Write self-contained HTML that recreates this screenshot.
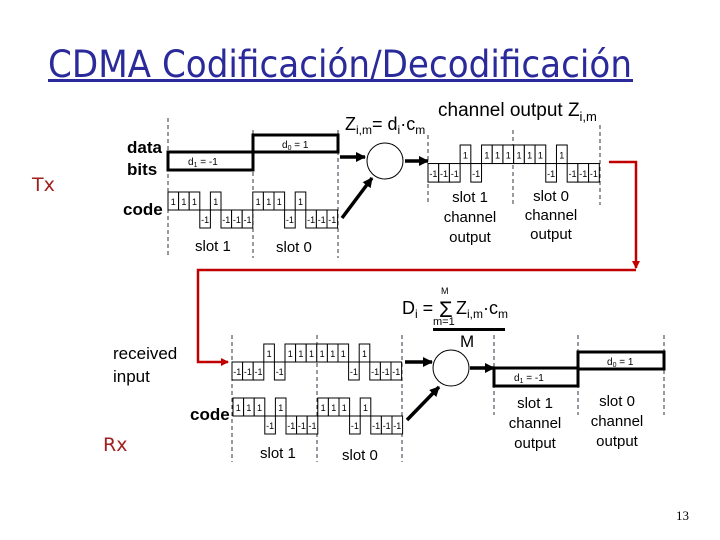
<!DOCTYPE html>
<html><head><meta charset="utf-8"><style>
html,body{margin:0;padding:0;background:#fff;}
svg{display:block;font-family:"Liberation Sans",sans-serif;}
.c text{font-size:9px;text-anchor:middle;}
.c rect{fill:#fff;stroke:#000;stroke-width:1;}
</style></head><body>
<svg width="720" height="540" viewBox="0 0 720 540" xmlns="http://www.w3.org/2000/svg">
<defs>
<marker id="ab" markerWidth="10" markerHeight="10" refX="9" refY="5" orient="auto" markerUnits="userSpaceOnUse"><path d="M0,0 L10,5 L0,10 Z" fill="#000"/></marker>
<marker id="ar" markerWidth="8" markerHeight="8" refX="7" refY="4" orient="auto" markerUnits="userSpaceOnUse"><path d="M0,0 L8,4 L0,8 Z" fill="#c00000"/></marker>
</defs>
<!-- title -->
<text x="48" y="77" font-size="37" fill="#2a2a9a" font-family="DejaVu Sans, sans-serif" textLength="584" lengthAdjust="spacingAndGlyphs">CDMA Codificación/Decodificación</text>
<rect x="48" y="79" width="585" height="3" fill="#2a2a9a"/>

<text x="32" y="191" font-size="19" fill="#a02020" font-family="DejaVu Sans, sans-serif">Tx</text>
<text x="103" y="451" font-size="19" fill="#a02020" font-family="DejaVu Sans, sans-serif">Rx</text>

<!-- encoder labels -->
<g font-size="17" font-weight="bold">
<text x="127" y="153">data</text>
<text x="127" y="175">bits</text>
<text x="123" y="215">code</text>
</g>
<g font-size="15">
<text x="195" y="251">slot 1</text>
<text x="276" y="252">slot 0</text>
</g>
<!-- dashed lines -->
<g stroke="#334" stroke-width="1" stroke-dasharray="4,3">
<line x1="168" y1="118" x2="168" y2="258"/>
<line x1="253" y1="130" x2="253" y2="258"/>
<line x1="338" y1="130" x2="338" y2="258"/>
<line x1="428" y1="135" x2="428" y2="205"/>
<line x1="513" y1="130" x2="513" y2="205"/>
<line x1="600" y1="125" x2="600" y2="205"/>
<line x1="232" y1="335" x2="232" y2="462"/>
<line x1="317" y1="335" x2="317" y2="462"/>
<line x1="402" y1="335" x2="402" y2="462"/>
<line x1="494" y1="335" x2="494" y2="415"/>
<line x1="578" y1="335" x2="578" y2="415"/>
<line x1="664" y1="335" x2="664" y2="415"/>
</g>
<!-- data bits -->
<rect x="168" y="152" width="85" height="18" fill="none" stroke="#000" stroke-width="3"/>
<rect x="253" y="135" width="85" height="17" fill="none" stroke="#000" stroke-width="3"/>
<text x="188" y="165" font-size="10">d<tspan font-size="7" dy="2">1</tspan><tspan dy="-2"> = -1</tspan></text>
<text x="282" y="148" font-size="10">d<tspan font-size="7" dy="2">0</tspan><tspan dy="-2"> = 1</tspan></text>

<!-- encoder code waveform (pattern A) -->
<g class="c" transform="translate(168,192)">
<rect x="0" y="0" width="10.6" height="18"/><rect x="10.6" y="0" width="10.6" height="18"/><rect x="21.2" y="0" width="10.6" height="18"/><rect x="42.4" y="0" width="10.6" height="18"/><rect x="84.8" y="0" width="10.6" height="18"/><rect x="95.4" y="0" width="10.6" height="18"/><rect x="106" y="0" width="10.6" height="18"/><rect x="127.2" y="0" width="10.6" height="18"/>
<rect x="31.8" y="18" width="10.6" height="18"/><rect x="53" y="18" width="10.6" height="18"/><rect x="63.6" y="18" width="10.6" height="18"/><rect x="74.2" y="18" width="10.6" height="18"/><rect x="116.6" y="18" width="10.6" height="18"/><rect x="137.8" y="18" width="10.6" height="18"/><rect x="148.4" y="18" width="10.6" height="18"/><rect x="159" y="18" width="10.6" height="18"/>
<text x="5.3" y="13">1</text><text x="15.9" y="13">1</text><text x="26.5" y="13">1</text><text x="47.7" y="13">1</text><text x="90.1" y="13">1</text><text x="100.7" y="13">1</text><text x="111.3" y="13">1</text><text x="132.5" y="13">1</text>
<text x="37.1" y="31">-1</text><text x="58.3" y="31">-1</text><text x="68.9" y="31">-1</text><text x="79.5" y="31">-1</text><text x="121.9" y="31">-1</text><text x="143.1" y="31">-1</text><text x="153.7" y="31">-1</text><text x="164.3" y="31">-1</text>
</g>

<!-- Zim formula -->
<text x="345" y="130" font-size="18">Z<tspan font-size="12" dy="4">i,m</tspan><tspan dy="-4">= d</tspan><tspan font-size="12" dy="4">i</tspan><tspan dy="-4">·c</tspan><tspan font-size="12" dy="4">m</tspan></text>
<text x="438" y="116" font-size="19">channel output Z<tspan font-size="13" dy="5">i,m</tspan></text>

<!-- encoder circle & arrows -->
<circle cx="385" cy="161" r="18" fill="none" stroke="#000" stroke-width="1"/>
<g stroke="#000" stroke-width="3.5">
<line x1="340" y1="157" x2="365" y2="157" marker-end="url(#ab)"/>
<line x1="342" y1="218" x2="372" y2="178" marker-end="url(#ab)"/>
<line x1="405" y1="161" x2="428" y2="161" marker-end="url(#ab)"/>
</g>

<!-- channel waveform (pattern B) -->
<g class="c" transform="translate(428,145) scale(1.01,1.03)">
<rect x="31.8" y="0" width="10.6" height="18"/><rect x="53" y="0" width="10.6" height="18"/><rect x="63.6" y="0" width="10.6" height="18"/><rect x="74.2" y="0" width="10.6" height="18"/><rect x="84.8" y="0" width="10.6" height="18"/><rect x="95.4" y="0" width="10.6" height="18"/><rect x="106" y="0" width="10.6" height="18"/><rect x="127.2" y="0" width="10.6" height="18"/>
<rect x="0" y="18" width="10.6" height="18"/><rect x="10.6" y="18" width="10.6" height="18"/><rect x="21.2" y="18" width="10.6" height="18"/><rect x="42.4" y="18" width="10.6" height="18"/><rect x="116.6" y="18" width="10.6" height="18"/><rect x="137.8" y="18" width="10.6" height="18"/><rect x="148.4" y="18" width="10.6" height="18"/><rect x="159" y="18" width="10.6" height="18"/>
<text x="37.1" y="13">1</text><text x="58.3" y="13">1</text><text x="68.9" y="13">1</text><text x="79.5" y="13">1</text><text x="90.1" y="13">1</text><text x="100.7" y="13">1</text><text x="111.3" y="13">1</text><text x="132.5" y="13">1</text>
<text x="5.3" y="31">-1</text><text x="15.9" y="31">-1</text><text x="26.5" y="31">-1</text><text x="47.7" y="31">-1</text><text x="121.9" y="31">-1</text><text x="143.1" y="31">-1</text><text x="153.7" y="31">-1</text><text x="164.3" y="31">-1</text>
</g>
<g font-size="15" text-anchor="middle">
<text x="470" y="202">slot 1</text><text x="470" y="222">channel</text><text x="470" y="242">output</text>
<text x="551" y="201">slot 0</text><text x="551" y="220">channel</text><text x="551" y="239">output</text>
</g>

<!-- red connector -->
<polyline points="609,162 636,162 636,268" fill="none" stroke="#c00000" stroke-width="2.5" marker-end="url(#ar)"/>
<polyline points="636,270 198,270 198,362 228,362" fill="none" stroke="#c00000" stroke-width="2.5" marker-end="url(#ar)"/>

<!-- Di formula -->
<text x="402" y="314" font-size="18">D<tspan font-size="12" dy="4">i</tspan><tspan dy="-4"> = </tspan></text>
<text x="439" y="317" font-size="22">Σ</text>
<text x="441" y="294" font-size="9">M</text>
<text x="433" y="325" font-size="11">m=1</text>
<text x="456" y="314" font-size="18">Z<tspan font-size="12" dy="4">i,m</tspan><tspan dy="-4">·c</tspan><tspan font-size="12" dy="4">m</tspan></text>
<rect x="433" y="328" width="72" height="3" fill="#000"/>
<text x="460" y="347" font-size="17">M</text>

<!-- receiver labels -->
<g font-size="17">
<text x="113" y="359">received</text>
<text x="113" y="382">input</text>
</g>
<text x="190" y="420" font-size="17" font-weight="bold">code</text>
<g font-size="15">
<text x="260" y="458">slot 1</text>
<text x="342" y="460">slot 0</text>
</g>

<!-- received waveform (pattern B) -->
<g class="c" transform="translate(232,344)">
<rect x="31.8" y="0" width="10.6" height="18"/><rect x="53" y="0" width="10.6" height="18"/><rect x="63.6" y="0" width="10.6" height="18"/><rect x="74.2" y="0" width="10.6" height="18"/><rect x="84.8" y="0" width="10.6" height="18"/><rect x="95.4" y="0" width="10.6" height="18"/><rect x="106" y="0" width="10.6" height="18"/><rect x="127.2" y="0" width="10.6" height="18"/>
<rect x="0" y="18" width="10.6" height="18"/><rect x="10.6" y="18" width="10.6" height="18"/><rect x="21.2" y="18" width="10.6" height="18"/><rect x="42.4" y="18" width="10.6" height="18"/><rect x="116.6" y="18" width="10.6" height="18"/><rect x="137.8" y="18" width="10.6" height="18"/><rect x="148.4" y="18" width="10.6" height="18"/><rect x="159" y="18" width="10.6" height="18"/>
<text x="37.1" y="13">1</text><text x="58.3" y="13">1</text><text x="68.9" y="13">1</text><text x="79.5" y="13">1</text><text x="90.1" y="13">1</text><text x="100.7" y="13">1</text><text x="111.3" y="13">1</text><text x="132.5" y="13">1</text>
<text x="5.3" y="31">-1</text><text x="15.9" y="31">-1</text><text x="26.5" y="31">-1</text><text x="47.7" y="31">-1</text><text x="121.9" y="31">-1</text><text x="143.1" y="31">-1</text><text x="153.7" y="31">-1</text><text x="164.3" y="31">-1</text>
</g>

<!-- decoder code waveform (pattern A) -->
<g class="c" transform="translate(233,398)">
<rect x="0" y="0" width="10.6" height="18"/><rect x="10.6" y="0" width="10.6" height="18"/><rect x="21.2" y="0" width="10.6" height="18"/><rect x="42.4" y="0" width="10.6" height="18"/><rect x="84.8" y="0" width="10.6" height="18"/><rect x="95.4" y="0" width="10.6" height="18"/><rect x="106" y="0" width="10.6" height="18"/><rect x="127.2" y="0" width="10.6" height="18"/>
<rect x="31.8" y="18" width="10.6" height="18"/><rect x="53" y="18" width="10.6" height="18"/><rect x="63.6" y="18" width="10.6" height="18"/><rect x="74.2" y="18" width="10.6" height="18"/><rect x="116.6" y="18" width="10.6" height="18"/><rect x="137.8" y="18" width="10.6" height="18"/><rect x="148.4" y="18" width="10.6" height="18"/><rect x="159" y="18" width="10.6" height="18"/>
<text x="5.3" y="13">1</text><text x="15.9" y="13">1</text><text x="26.5" y="13">1</text><text x="47.7" y="13">1</text><text x="90.1" y="13">1</text><text x="100.7" y="13">1</text><text x="111.3" y="13">1</text><text x="132.5" y="13">1</text>
<text x="37.1" y="31">-1</text><text x="58.3" y="31">-1</text><text x="68.9" y="31">-1</text><text x="79.5" y="31">-1</text><text x="121.9" y="31">-1</text><text x="143.1" y="31">-1</text><text x="153.7" y="31">-1</text><text x="164.3" y="31">-1</text>
</g>

<!-- decoder circle & arrows -->
<circle cx="451" cy="368" r="18" fill="none" stroke="#000" stroke-width="1"/>
<g stroke="#000" stroke-width="3.5">
<line x1="405" y1="362" x2="432" y2="362" marker-end="url(#ab)"/>
<line x1="407" y1="420" x2="439" y2="387" marker-end="url(#ab)"/>
<line x1="470" y1="368" x2="494" y2="368" marker-end="url(#ab)"/>
</g>

<!-- decoder output bits -->
<rect x="494" y="368" width="84" height="18" fill="none" stroke="#000" stroke-width="3"/>
<rect x="578" y="352" width="86" height="17" fill="none" stroke="#000" stroke-width="3"/>
<text x="514" y="381" font-size="10">d<tspan font-size="7" dy="2">1</tspan><tspan dy="-2"> = -1</tspan></text>
<text x="607" y="365" font-size="10">d<tspan font-size="7" dy="2">0</tspan><tspan dy="-2"> = 1</tspan></text>
<g font-size="15" text-anchor="middle">
<text x="535" y="408">slot 1</text><text x="535" y="428">channel</text><text x="535" y="448">output</text>
<text x="617" y="406">slot 0</text><text x="617" y="426">channel</text><text x="617" y="446">output</text>
</g>

<text x="676" y="520" font-size="13" font-family="Liberation Serif, serif">13</text>
</svg>
</body></html>
